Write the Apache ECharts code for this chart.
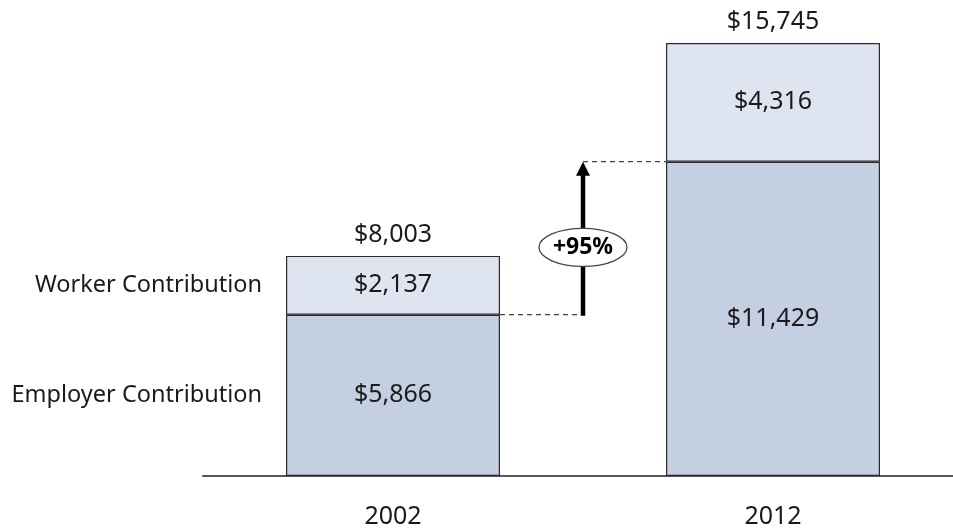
<!DOCTYPE html>
<html>
<head>
<meta charset="utf-8">
<script src="https://cdn.jsdelivr.net/npm/echarts@6/dist/echarts.min.js"></script>
<style>
  html, body { margin: 0; padding: 0; background: #fff; }
  #main { width: 953px; height: 529px; }
</style>
</head>
<body>
<div id="main"></div>
<script>
// data
const years = ['2002', '2012'];
const employer = [5866, 11429];
const worker = [2137, 4316];
const totals = [8003, 15745];
const seriesNames = ['Employer Contribution', 'Worker Contribution'];
const growthText = '+95%';

const FONT = 'Noto Sans';
const TEXT = '#1a1a1a';
const BAR_W = 214;
const NUM_SIZE = 25;

const money = (v) => '$' + v.toLocaleString('en-US');

const chart = echarts.init(document.getElementById('main'));

const valueLabel = {
  show: true,
  position: 'inside',
  color: TEXT,
  fontFamily: FONT,
  fontSize: NUM_SIZE,
  formatter: (p) => money(p.value),
};

chart.setOption({
  animation: false,
  grid: { left: 203, right: -10, top: 43, bottom: 53, outerBoundsMode: 'none' },
  xAxis: {
    type: 'category',
    data: years,
    axisTick: { show: false },
    axisLine: { lineStyle: { color: '#555', width: 2 } },
    axisLabel: { color: TEXT, fontFamily: FONT, fontSize: NUM_SIZE, margin: 28 },
  },
  yAxis: {
    type: 'value',
    min: 0,
    max: 15745,
    show: false,
  },
  series: [
    {
      name: seriesNames[0],
      type: 'bar',
      stack: 'total',
      barWidth: BAR_W,
      data: employer,
      itemStyle: { color: '#c5cfe2', borderColor: '#2a2a2a', borderWidth: 1.2 },
      label: valueLabel,
    },
    {
      name: seriesNames[1],
      type: 'bar',
      stack: 'total',
      barWidth: BAR_W,
      data: worker,
      itemStyle: { color: '#dfe5f0', borderColor: '#2a2a2a', borderWidth: 1.2 },
      label: valueLabel,
    },
    {
      // totals on top of each bar
      type: 'scatter',
      data: totals,
      symbolSize: 0,
      itemStyle: { color: TEXT, opacity: 1 },
      label: {
        show: true,
        position: 'top',
        distance: 9,
        color: TEXT,
        fontFamily: FONT,
        fontSize: NUM_SIZE,
        formatter: (p) => money(p.value),
      },
      z: 5,
    },
  ],
});

// annotations placed from the axes
const px = (i, v) => chart.convertToPixel({ gridIndex: 0 }, [i, v]);
const p1Emp = px(0, employer[0]);
const p1Mid = px(0, employer[0] / 2);
const p1WMid = px(0, employer[0] + worker[0] / 2);
const p2Emp = px(1, employer[1]);
const bar1Right = p1Emp[0] + BAR_W / 2;
const bar1Left = p1Emp[0] - BAR_W / 2;
const bar2Left = p2Emp[0] - BAR_W / 2;
const arrowX = (bar1Right + bar2Left) / 2;
const yLow = p1Emp[1];
const yHigh = p2Emp[1];
const ellY = yHigh + (yLow - yHigh) * 0.56;

const dashed = { stroke: '#444', lineWidth: 1.3, lineDash: [5, 4] };
const sideFont = '23.5px "' + FONT + '"';

chart.setOption({
  graphic: [
    {
      type: 'text',
      x: bar1Left - 24,
      y: p1WMid[1],
      style: { text: seriesNames[1], fill: TEXT, font: sideFont, align: 'right', verticalAlign: 'middle' },
    },
    {
      type: 'text',
      x: bar1Left - 24,
      y: p1Mid[1],
      style: { text: seriesNames[0], fill: TEXT, font: sideFont, align: 'right', verticalAlign: 'middle' },
    },
    {
      type: 'line',
      shape: { x1: bar1Right, y1: yLow, x2: arrowX, y2: yLow },
      style: dashed,
      z: 10,
    },
    {
      type: 'line',
      shape: { x1: arrowX, y1: yHigh, x2: bar2Left, y2: yHigh },
      style: dashed,
      z: 10,
    },
    {
      type: 'line',
      shape: { x1: arrowX, y1: yLow + 1, x2: arrowX, y2: yHigh + 12 },
      style: { stroke: '#000', lineWidth: 4.5 },
      z: 10,
    },
    {
      type: 'polygon',
      shape: { points: [[arrowX, yHigh], [arrowX - 7, yHigh + 14], [arrowX + 7, yHigh + 14]] },
      style: { fill: '#000' },
      z: 10,
    },
    {
      type: 'ellipse',
      shape: { cx: arrowX, cy: ellY, rx: 44, ry: 19 },
      style: { fill: '#fff', stroke: '#444', lineWidth: 1.3 },
      z: 11,
    },
    {
      type: 'text',
      x: arrowX,
      y: ellY,
      style: { text: growthText, fill: '#000', font: 'bold 23px "' + FONT + '"', align: 'center', verticalAlign: 'middle' },
      z: 12,
    },
  ],
});
</script>
</body>
</html>
